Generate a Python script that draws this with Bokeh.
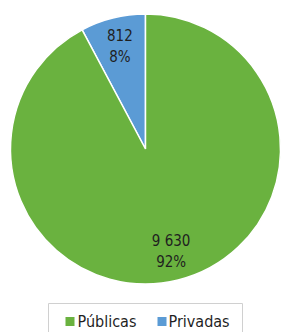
import math
from bokeh.plotting import figure
from bokeh.models import ColumnDataSource
from bokeh.core.properties import value
from bokeh.embed import file_html
from bokeh.resources import INLINE

categories = ["Privadas", "Públicas"]
values = [812, 9630]
value_labels = ["812", "9 630"]
colors = ["#5B9BD5", "#6AB23F"]

W, H = 285, 332
total = sum(values)
starts, ends, lx, ly, texts = [], [], [], [], []
cx, cy, r = 145, H - 148.5, 135
a = math.pi / 2
for v, lab in zip(values, value_labels):
    frac = v / total
    s, e = a, a + 2 * math.pi * frac
    starts.append(s)
    ends.append(e)
    mid = (s + e) / 2
    lx.append(cx + 0.785 * r * math.cos(mid))
    ly.append(cy + 0.785 * r * math.sin(mid))
    texts.append(f"{lab}\n{round(frac * 100)}%")
    a = e

p = figure(width=W, height=H, x_range=(0, W), y_range=(0, H),
           output_backend="svg", toolbar_location=None, min_border=0)
p.axis.visible = False
p.grid.visible = False
p.outline_line_color = None
p.background_fill_color = "white"

src = ColumnDataSource(dict(start=starts, end=ends, color=colors))
p.wedge(x=cx, y=cy, radius=r, start_angle="start", end_angle="end",
        fill_color="color", line_color="white", line_width=1.5, source=src)

FONT = value("DejaVu Sans Condensed")
p.text(x=lx, y=ly, text=texts, text_align="center", text_baseline="middle",
       text_font=FONT, text_font_size="15px",
       text_color="#1f1f1f", text_line_height=1.15)

# legend
p.quad(left=48, right=242, top=H - 303, bottom=-5, fill_color=None,
       line_color="#d0d0d0", line_width=1)
ly_leg = H - 321
sq_x = [65, 157]
tx_x = [77, 168]
p.rect(x=[s + 4.5 for s in sq_x], y=[ly_leg, ly_leg], width=9, height=9,
       fill_color=colors[::-1], line_color=None)
p.text(x=tx_x, y=[ly_leg, ly_leg], text=categories[::-1], text_baseline="middle",
       text_font=FONT, text_font_size="16px", text_color="#1f1f1f")

open("out.html", "w").write(file_html(p, INLINE))
